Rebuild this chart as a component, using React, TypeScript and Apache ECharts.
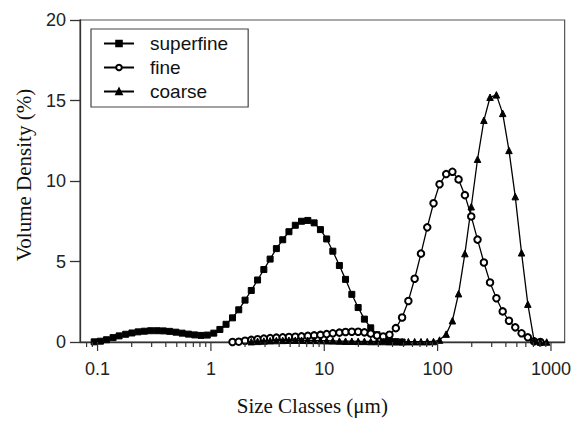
import { useEffect, useRef } from "react";
import * as echarts from "echarts";

// Size classes (µm) and volume density (%) per sample
const superfineSize = [
  0.0934, 0.106, 0.12, 0.137, 0.155, 0.177, 0.201, 0.228, 0.259, 0.294, 0.335, 0.38, 0.432, 0.491,
  0.557, 0.633, 0.719, 0.818, 0.929, 1.06, 1.2, 1.36, 1.55, 1.76, 2.0, 2.27, 2.58, 2.93, 3.33, 3.78,
  4.3, 4.88, 5.55, 6.3, 7.16, 8.14, 9.25, 10.5, 11.9, 13.6, 15.4, 17.5, 19.9, 22.6, 25.7, 29.2, 33.1,
  37.6, 42.8, 48.6,
];
const superfineVolume = [
  0.01, 0.05, 0.14, 0.27, 0.38, 0.48, 0.56, 0.63, 0.67, 0.7, 0.7, 0.69, 0.66, 0.61,
  0.55, 0.49, 0.44, 0.41, 0.43, 0.55, 0.78, 1.1, 1.5, 2.0, 2.6, 3.2, 3.85, 4.5, 5.15, 5.8,
  6.35, 6.85, 7.25, 7.5, 7.55, 7.4, 6.98, 6.4, 5.64, 4.75, 3.89, 2.96, 2.14, 1.42, 0.88, 0.45, 0.2,
  0.07, 0.02, 0.0,
];

const fineSize = [
  1.55, 1.76, 2.0, 2.27, 2.58, 2.93, 3.33, 3.78, 4.3, 4.88, 5.55, 6.3, 7.16, 8.14, 9.25, 10.5, 11.9,
  13.6, 15.4, 17.5, 19.9, 22.6, 25.7, 29.2, 33.1, 37.6, 42.8, 48.6, 55.2, 62.7, 71.3, 81.0, 92.0,
  104, 119, 135, 153, 174, 198, 225, 256, 290, 330, 375, 426, 484, 550, 625, 710, 806,
];
const fineVolume = [
  0.0, 0.02, 0.08, 0.13, 0.17, 0.21, 0.24, 0.27, 0.29, 0.31, 0.33, 0.35, 0.38, 0.41, 0.44, 0.49, 0.54,
  0.58, 0.62, 0.64, 0.64, 0.6, 0.52, 0.4, 0.34, 0.45, 0.86, 1.52, 2.55, 3.93, 5.49, 7.12, 8.62,
  9.8, 10.43, 10.57, 10.1, 9.12, 7.8, 6.36, 4.94, 3.7, 2.72, 1.9, 1.32, 0.91, 0.54, 0.29, 0.04, 0.0,
];

const coarseSize = [
  2.27, 2.58, 2.93, 3.33, 3.78, 4.3, 4.88, 5.55, 6.3, 7.16, 8.14, 9.25, 10.5, 11.9, 13.6, 15.4, 17.5,
  19.9, 22.6, 25.7, 29.2, 33.1, 37.6, 42.8, 48.6, 55.2, 62.7, 71.3, 81.0, 92.0, 104, 119, 135, 153,
  174, 198, 225, 256, 290, 330, 375, 426, 484, 550, 625, 710, 806, 916,
];
const coarseVolume = [
  0.02, 0.04, 0.06, 0.08, 0.09, 0.1, 0.11, 0.11, 0.11, 0.1, 0.1, 0.09, 0.08, 0.07, 0.06, 0.05, 0.05,
  0.04, 0.04, 0.03, 0.03, 0.03, 0.02, 0.02, 0.02, 0.02, 0.02, 0.02, 0.02, 0.03, 0.12, 0.49, 1.32, 3.0,
  5.49, 8.4, 11.35, 13.77, 15.2, 15.35, 14.2, 11.9, 9.03, 5.54, 2.35, 0.08, 0.0, 0.0,
];

const seriesNames = ["superfine", "fine", "coarse"];
const xTickLabels = ["0.1", "1", "10", "100", "1000"];
const xMajorTicks = [0.1, 1, 10, 100, 1000];
const xMinorTicks = [
  0.08, 0.09, 0.2, 0.3, 0.4, 0.5, 0.6, 0.7, 0.8, 0.9, 2, 3, 4, 5, 6, 7, 8, 9, 20, 30, 40, 50, 60, 70,
  80, 90, 200, 300, 400, 500, 600, 700, 800, 900,
];
const yTicks = [0, 5, 10, 15, 20];

const SANS = "'Liberation Sans', Arial, Helvetica, sans-serif";
const SERIF = "'Liberation Serif', 'Times New Roman', Times, serif";
const AXIS = "#333";

function pairs(xs: number[], ys: number[]) {
  return xs.map((x, i) => [x, ys[i]]);
}

export default function App() {
  const ref = useRef<HTMLDivElement>(null);
  useEffect(() => {
    if (!ref.current) return;
    const chart = echarts.init(ref.current, null, { renderer: "svg" });
    const lineSeries = (name: string, data: number[][], symbol: string, size: number) => ({
      name,
      type: "line",
      data,
      symbol,
      symbolSize: size,
      showSymbol: true,
      showAllSymbol: true,
      lineStyle: { color: "#000", width: 1.3 },
      itemStyle: { color: "#000", borderColor: "#000", borderWidth: 1 },
      emphasis: { disabled: true },
      z: 3,
    });
    const tickData = [
      ...xMajorTicks.map((v) => [v, 1]),
      ...xMinorTicks.map((v) => [v, 0]),
    ];
    chart.setOption({
      animation: false,
      backgroundColor: "#fff",
      grid: {
        left: 80,
        right: 8,
        top: 20,
        bottom: 78,
        show: true,
        borderColor: "#555",
        borderWidth: 1.2,
        backgroundColor: "transparent",
      },
      legend: {
        data: seriesNames,
        orient: "vertical",
        left: 91,
        top: 29,
        padding: [5, 20, 6, 12],
        itemWidth: 30,
        itemHeight: 7,
        itemGap: 5,
        borderColor: "#444",
        borderWidth: 1.2,
        selectedMode: false,
        textStyle: { fontSize: 19, fontFamily: SANS, color: "#111", padding: [0, 0, 0, 11] },
      },
      xAxis: {
        type: "log",
        logBase: 10,
        min: 0.07,
        max: 1320,
        name: "Size Classes (μm)",
        nameLocation: "middle",
        nameGap: 53,
        nameTextStyle: { fontSize: 21, fontFamily: SERIF, color: "#111", padding: [0, 20, 0, 0] },
        axisLine: { show: true, lineStyle: { color: AXIS, width: 1.3 } },
        axisTick: { show: false },
        splitLine: { show: false },
        minorTick: { show: false },
        axisLabel: {
          fontSize: 18,
          fontFamily: SANS,
          color: "#222",
          margin: 18,
          showMinLabel: false,
          showMaxLabel: false,
          formatter: (v: number) => {
            const l = Math.log10(v);
            const r = Math.round(l);
            if (Math.abs(l - r) > 1e-6) return "";
            const idx = xMajorTicks.findIndex((t) => Math.abs(Math.log10(t) - r) < 1e-6);
            return idx >= 0 ? xTickLabels[idx] : "";
          },
        },
      },
      yAxis: {
        type: "value",
        min: 0,
        max: 20,
        interval: 5,
        name: "Volume Density (%)",
        nameLocation: "middle",
        nameGap: 46,
        nameTextStyle: { fontSize: 21, fontFamily: SERIF, color: "#111", padding: [0, 0, 0, 12] },
        axisLine: { show: true, lineStyle: { color: AXIS, width: 1.3 } },
        axisTick: { show: true, length: 10, lineStyle: { color: AXIS, width: 1.3 } },
        splitLine: { show: false },
        axisLabel: {
          fontSize: 18,
          fontFamily: SANS,
          color: "#222",
          margin: 14,
          formatter: (v: number) => (yTicks.includes(v) ? String(v) : ""),
        },
      },
      series: [
        lineSeries(seriesNames[0], pairs(superfineSize, superfineVolume), "rect", 6),
        lineSeries(seriesNames[1], pairs(fineSize, fineVolume), "emptyCircle", 6.5),
        lineSeries(seriesNames[2], pairs(coarseSize, coarseVolume), "triangle", 6.5),
        {
          type: "custom",
          silent: true,
          clip: false,
          z: 5,
          data: tickData,
          renderItem: (_params: any, api: any) => {
            const v = api.value(0);
            const major = api.value(1) === 1;
            const p = api.coord([v, 0]);
            const len = major ? 9 : 5;
            return {
              type: "line",
              shape: { x1: p[0], y1: p[1], x2: p[0], y2: p[1] + len },
              style: { stroke: AXIS, lineWidth: 1.2 },
            };
          },
        },
      ],
    });
    return () => chart.dispose();
  }, []);
  return (
    <div
      ref={ref}
      style={{ position: "fixed", left: 0, top: 0, width: 574, height: 421, background: "#fff" }}
    />
  );
}
